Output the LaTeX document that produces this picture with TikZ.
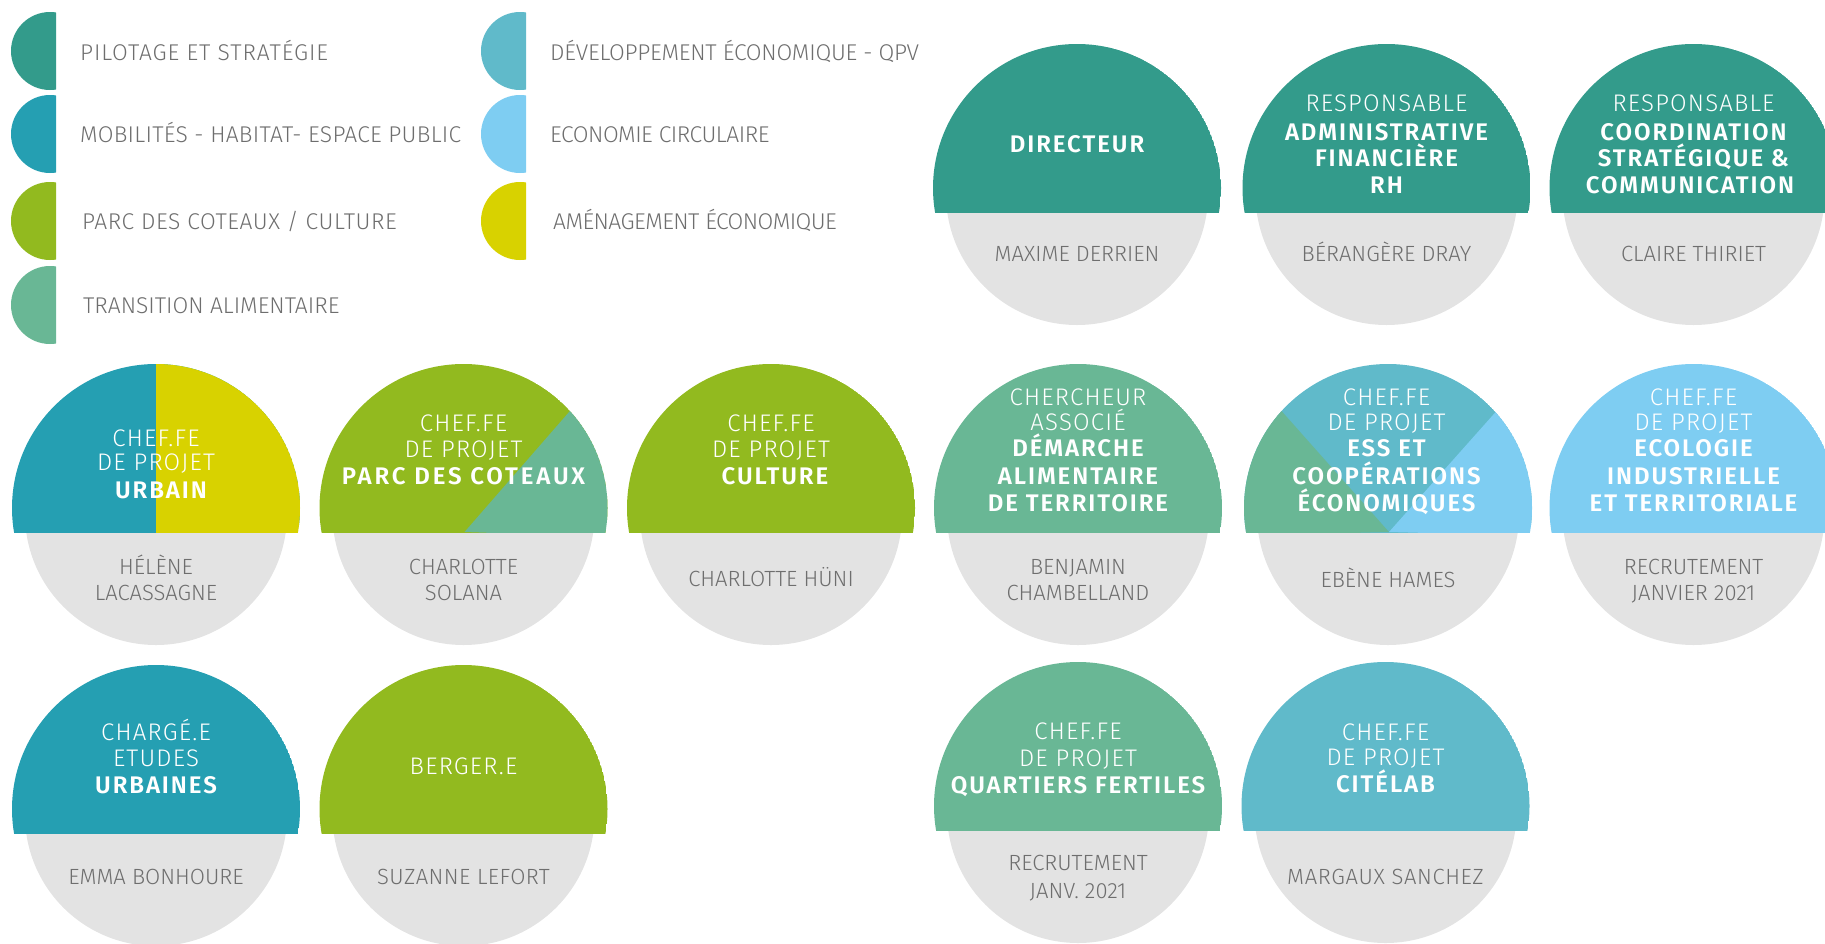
\documentclass[tikz,border=0pt]{standalone}
\usepackage{fontspec}
\setmainfont{Fira Sans Light}[BoldFont={Fira Sans SemiBold}]
\definecolor{cPil}{HTML}{339B8B}
\definecolor{cMob}{HTML}{259FB2}
\definecolor{cParc}{HTML}{92BA1F}
\definecolor{cTra}{HTML}{69B795}
\definecolor{cQpv}{HTML}{60BACA}
\definecolor{cEco}{HTML}{7ECDF2}
\definecolor{cAme}{HTML}{D8D200}
\definecolor{cGrey}{HTML}{E3E3E3}
\definecolor{cTxt}{HTML}{6E6E6E}
\newcommand{\lsp}[1]{\addfontfeature{LetterSpace=#1}}
\tikzset{
  lt/.style={text=white, font=\fontsize{24}{27}\selectfont\lsp{5}, anchor=base, inner sep=0pt},
  bd/.style={text=white, font=\fontsize{24}{27}\selectfont\bfseries\lsp{8}, anchor=base, inner sep=0pt},
  nm/.style={text=cTxt, font=\fontsize{22}{27}\selectfont, anchor=base, inner sep=0pt},
  lg/.style={text=cTxt, font=\fontsize{22.8}{27}\selectfont, anchor=base west, inner sep=0pt}
}
\newcommand{\topclip}[2]{\clip (#1-150,#2-150) rectangle (#1+150,#2+24); \clip (#1,#2) circle[radius=144pt];}
\newcommand{\unitbase}[3]{%
  \fill[cGrey] (#1,#2+6) circle[radius=131pt];
  \begin{scope}\topclip{#1}{#2}\fill[#3] (#1,#2) circle[radius=144pt];\end{scope}}
\newcommand{\legsh}[3]{%
  \begin{scope}\clip (#1-50,#2-45) rectangle (#1+6,#2+45);\fill[#3] (#1,#2) circle[radius=39pt];\end{scope}}
\begin{document}
\begin{tikzpicture}[x=1pt,y=-1pt]
\useasboundingbox (0,0) rectangle (1825,943);
\clip (0,0) rectangle (1825,943);
% legend
\legsh{50}{51}{cPil}
\legsh{50}{134}{cMob}
\legsh{50}{221}{cParc}
\legsh{50}{305}{cTra}
\legsh{520}{51}{cQpv}
\legsh{520}{134}{cEco}
\legsh{520}{221}{cAme}
\node[lg] (l1) at (80,60) {\lsp{4}PILOTAGE ET STRATÉGIE};
\node[lg] (l2) at (80,142.7) {\lsp{1.2}MOBILITÉS - HABITAT- ESPACE PUBLIC};
\node[lg] (l3) at (82,229) {\lsp{2.5}PARC DES COTEAUX / CULTURE};
\node[lg] (l4) at (83,313) {TRANSITION ALIMENTAIRE};
\node[lg] (l5) at (550,60) {\lsp{-1}DÉVELOPPEMENT ÉCONOMIQUE - QPV};
\node[lg] (l6) at (550,142.7) {\lsp{-2}ECONOMIE CIRCULAIRE};
\node[lg] (l7) at (553,229) {\lsp{-2.4}AMÉNAGEMENT ÉCONOMIQUE};
% row 1
\unitbase{1077}{188}{cPil}
\unitbase{1386.5}{188}{cPil}
\unitbase{1693.5}{188}{cPil}
\node[bd] (a1) at (1077,152.7) {DIRECTEUR};
\node[nm] (a1n) at (1077,261.7) {MAXIME DERRIEN};
\node[lt] (a2a) at (1386.5,111.7) {RESPONSABLE};
\node[bd] (a2b) at (1386.5,140) {ADMINISTRATIVE};
\node[bd] (a2c) at (1386.5,166.7) {FINANCIÈRE};
\node[bd] (a2d) at (1386.5,193) {RH};
\node[nm] (a2n) at (1386.5,261.7) {BÉRANGÈRE DRAY};
\node[lt] (a3a) at (1693.5,111.7) {RESPONSABLE};
\node[bd] (a3b) at (1693.5,140) {COORDINATION};
\node[bd] (a3c) at (1693.5,166.7) {STRATÉGIQUE \&};
\node[bd] (a3d) at (1690,193) {COMMUNICATION};
\node[nm] (a3n) at (1693.5,261.7) {CLAIRE THIRIET};
% row 2
\unitbase{156}{508}{cMob}
\begin{scope}\topclip{156}{508}\fill[cAme] (156,350) rectangle (310,540);\end{scope}
\unitbase{463.5}{508}{cParc}
\begin{scope}\topclip{463.5}{508}\fill[cTra] (464.5,532) -- (674.5,291) -- (700,291) -- (700,540) -- cycle;\end{scope}
\unitbase{771}{508}{cParc}
\unitbase{1078}{508}{cTra}
\unitbase{1388}{508}{cQpv}
\begin{scope}\topclip{1388}{508}
  \fill[cTra] (1389,532) -- (1174,290) -- (1080,290) -- (1080,540) -- cycle;
  \fill[cEco] (1389,532) -- (1604,290) -- (1700,290) -- (1700,540) -- cycle;
\end{scope}
\unitbase{1693.5}{508}{cEco}
\node[lt] (b1a) at (156,446) {CHEF.FE};
\node[lt] (b1b) at (156,470.7) {DE PROJET};
\node[bd] (b1c) at (161,498) {URBAIN};
\node[nm] (b1n) at (156,574) {HÉLÈNE};
\node[nm] (b1m) at (156,600.7) {LACASSAGNE};
\node[lt] (b2a) at (463.5,431.7) {CHEF.FE};
\node[lt] (b2b) at (463.5,457) {DE PROJET};
\node[bd] (b2c) at (463.5,484) {\lsp{12}PARC DES COTEAUX};
\node[nm] (b2n) at (463.5,574) {CHARLOTTE};
\node[nm] (b2m) at (463.5,600.7) {SOLANA};
\node[lt] (b3a) at (771,431.7) {CHEF.FE};
\node[lt] (b3b) at (771,457) {DE PROJET};
\node[bd] (b3c) at (775,484) {CULTURE};
\node[nm] (b3n) at (771,586.7) {CHARLOTTE HÜNI};
\node[lt] (b4a) at (1078,405) {CHERCHEUR};
\node[lt] (b4b) at (1078,430) {ASSOCIÉ};
\node[bd] (b4c) at (1078,456.7) {DÉMARCHE};
\node[bd] (b4d) at (1078,484) {ALIMENTAIRE};
\node[bd] (b4e) at (1078,511.7) {DE TERRITOIRE};
\node[nm] (b4n) at (1078,574) {BENJAMIN};
\node[nm] (b4m) at (1078,600.7) {CHAMBELLAND};
\node[lt] (b5a) at (1386.5,405) {CHEF.FE};
\node[lt] (b5b) at (1386.5,430) {DE PROJET};
\node[bd] (b5c) at (1386.5,456.7) {ESS ET};
\node[bd] (b5d) at (1386.5,484) {COOPÉRATIONS};
\node[bd] (b5e) at (1386.5,511.7) {ÉCONOMIQUES};
\node[nm] (b5n) at (1388,587) {EBÈNE HAMES};
\node[lt] (b6a) at (1693.5,405) {CHEF.FE};
\node[lt] (b6b) at (1693.5,430) {DE PROJET};
\node[bd] (b6c) at (1693.5,456.7) {ECOLOGIE};
\node[bd] (b6d) at (1693.5,484) {INDUSTRIELLE};
\node[bd] (b6e) at (1693.5,511.7) {ET TERRITORIALE};
\node[nm] (b6n) at (1693.5,574) {RECRUTEMENT};
\node[nm] (b6m) at (1693.5,600.7) {JANVIER 2021};
% row 3
\unitbase{156}{809}{cMob}
\unitbase{463.5}{809}{cParc}
\unitbase{1078}{806}{cTra}
\unitbase{1385.5}{806}{cQpv}
\node[lt] (c1a) at (156,740) {CHARGÉ.E};
\node[lt] (c1b) at (156,766.7) {ETUDES};
\node[bd] (c1c) at (156,793) {URBAINES};
\node[nm] (c1n) at (156,884) {EMMA BONHOURE};
\node[lt] (c2a) at (463.5,774) {BERGER.E};
\node[nm] (c2n) at (463.5,884) {\lsp{2}SUZANNE LEFORT};
\node[lt] (c4a) at (1078,739) {CHEF.FE};
\node[lt] (c4b) at (1078,766.7) {DE PROJET};
\node[bd] (c4c) at (1078,793) {QUARTIERS FERTILES};
\node[nm] (c4n) at (1078,870.7) {RECRUTEMENT};
\node[nm] (c4m) at (1078,898) {JANV. 2021};
\node[lt] (c5a) at (1385.5,740) {CHEF.FE};
\node[lt] (c5b) at (1385.5,765) {DE PROJET};
\node[bd] (c5c) at (1385.5,792) {CITÉLAB};
\node[nm] (c5n) at (1385.5,884) {\lsp{3}MARGAUX SANCHEZ};
\end{tikzpicture}
\end{document}
